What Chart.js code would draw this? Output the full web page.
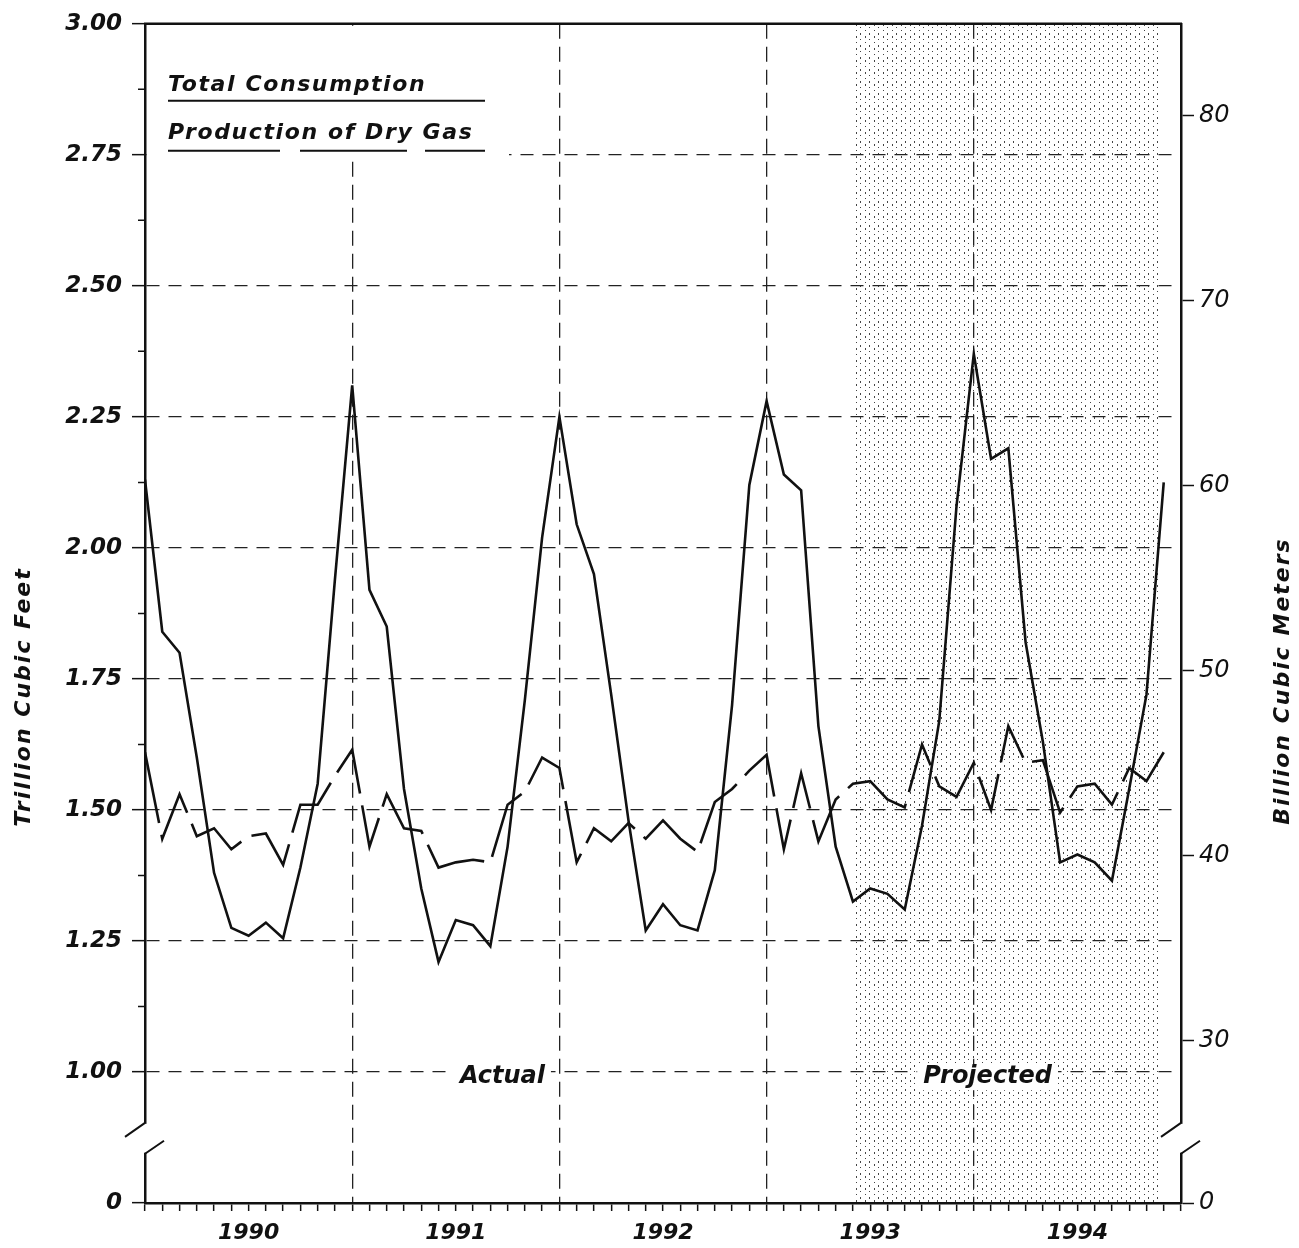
<!DOCTYPE html>
<html>
<head>
<meta charset="utf-8">
<script src="https://cdn.jsdelivr.net/npm/chart.js@4/dist/chart.umd.min.js"></script>
<style>
html,body{margin:0;padding:0;background:#ffffff;}
#wrap{width:1299px;height:1248px;position:relative;}
canvas{display:block;}
</style>
</head>
<body>
<div id="wrap"><canvas id="c" width="1299" height="1248"></canvas></div>
<script>
// ---- Data (monthly, Jan 1990 .. Dec 1994) ----
const years = ['1990', '1991', '1992', '1993', '1994'];
const consumption = [
  2.13, 1.84, 1.80, 1.60, 1.38, 1.275, 1.26, 1.285, 1.255, 1.39, 1.55, 1.94,
  2.31, 1.92, 1.85, 1.54, 1.35, 1.21, 1.29, 1.28, 1.24, 1.43, 1.71, 2.02,
  2.25, 2.045, 1.95, 1.72, 1.48, 1.27, 1.32, 1.28, 1.27, 1.385, 1.70, 2.12,
  2.28, 2.14, 2.11, 1.66, 1.43, 1.325, 1.35, 1.34, 1.31, 1.47, 1.67, 2.08,
  2.37, 2.17, 2.19, 1.82, 1.63, 1.40, 1.415, 1.40, 1.365, 1.54, 1.72, 2.125
];
const production = [
  1.61, 1.445, 1.53, 1.45, 1.465, 1.425, 1.45, 1.455, 1.395, 1.51, 1.51, 1.565,
  1.615, 1.43, 1.53, 1.465, 1.46, 1.39, 1.40, 1.405, 1.40, 1.51, 1.535, 1.60,
  1.58, 1.40, 1.465, 1.44, 1.475, 1.445, 1.48, 1.445, 1.42, 1.515, 1.54, 1.575,
  1.605, 1.425, 1.57, 1.44, 1.52, 1.55, 1.555, 1.52, 1.505, 1.625, 1.545, 1.525,
  1.59, 1.50, 1.66, 1.59, 1.595, 1.495, 1.545, 1.55, 1.51, 1.58, 1.555, 1.61
];
const leftTickValues = [0.75, 1.00, 1.25, 1.50, 1.75, 2.00, 2.25, 2.50, 2.75, 3.00];
const leftTickLabels = ['0', '1.00', '1.25', '1.50', '1.75', '2.00', '2.25', '2.50', '2.75', '3.00'];
const rightTickValues = [30, 40, 50, 60, 70, 80];
const TCF_TO_BCM = 28.3168;
const projectedStart = 41;      // month index where shading begins
const projectedEnd = 58.67;     // month index where shading ends
const seriesNames = ['Total Consumption', 'Production of Dry Gas'];
const periodLabels = ['Actual', 'Projected'];

const FONT = 'DejaVu Sans';
const INK = '#111111';

function makePattern() {
  const c = document.createElement('canvas');
  c.width = 9; c.height = 12;
  const g = c.getContext('2d');
  g.fillStyle = '#444';
  g.fillRect(1, 0, 1, 2);
  g.fillRect(1, 6, 1, 1);
  g.fillRect(5, 3, 1, 1);
  g.fillRect(5, 9, 1, 2);
  return c;
}

const decor = {
  id: 'decor',
  beforeDraw(chart) {
    const {ctx, chartArea: a, scales: {x}} = chart;
    ctx.save();
    ctx.fillStyle = '#fff';
    ctx.fillRect(0, 0, chart.width, chart.height);
    const x0 = x.getPixelForValue(projectedStart);
    const x1 = x.getPixelForValue(projectedEnd);
    ctx.fillStyle = ctx.createPattern(makePattern(), 'repeat');
    ctx.fillRect(x0, a.top, x1 - x0, a.bottom - a.top);
    ctx.restore();
  },
  beforeDatasetsDraw(chart) {
    const {ctx, chartArea: a, scales: {x, y}} = chart;
    ctx.save();
    // legend area (covers grid)
    ctx.fillStyle = '#fff';
    ctx.fillRect(a.left + 2, a.top + 2, 362, 134);
    ctx.fillStyle = INK;
    ctx.font = `italic bold 22px "${FONT}"`;
    ctx.letterSpacing = '1.6px';
    ctx.textAlign = 'left';
    ctx.textBaseline = 'alphabetic';
    const lx = a.left + 23;
    ctx.fillText(seriesNames[0], lx, a.top + 67);
    ctx.fillText(seriesNames[1], lx, a.top + 115);
    ctx.strokeStyle = INK;
    ctx.lineWidth = 2;
    ctx.beginPath();
    ctx.moveTo(lx, a.top + 77); ctx.lineTo(lx + 317, a.top + 77);
    ctx.stroke();
    ctx.beginPath();
    ctx.moveTo(lx, a.top + 127); ctx.lineTo(lx + 112, a.top + 127);
    ctx.moveTo(lx + 132, a.top + 127); ctx.lineTo(lx + 239, a.top + 127);
    ctx.moveTo(lx + 257, a.top + 127); ctx.lineTo(lx + 317, a.top + 127);
    ctx.stroke();

    // period labels
    ctx.font = `italic bold 24px "${FONT}"`;
    ctx.letterSpacing = '0px';
    ctx.textAlign = 'center';
    ctx.textBaseline = 'middle';
    const ly = y.getPixelForValue(0.99);
    [[periodLabels[0], 20.7], [periodLabels[1], 48.8]].forEach(([t, m]) => {
      const px = x.getPixelForValue(m);
      const w = ctx.measureText(t).width;
      ctx.fillStyle = '#fff';
      ctx.fillRect(px - w / 2 - 6, ly - 13, w + 12, 26);
      ctx.fillStyle = INK;
      ctx.fillText(t, px, ly);
    });
    ctx.restore();
  },
  afterDraw(chart) {
    const {ctx, chartArea: a, scales: {y}} = chart;
    ctx.save();
    ctx.strokeStyle = INK;
    // top border
    ctx.lineWidth = 2.5;
    ctx.beginPath();
    ctx.moveTo(a.left - 1, a.top); ctx.lineTo(a.right + 1, a.top);
    ctx.stroke();
    // minor ticks on left axis
    ctx.lineWidth = 1.5;
    ctx.beginPath();
    for (let v = 1.125; v < 3; v += 0.25) {
      const py = y.getPixelForValue(v);
      ctx.moveTo(a.left - 7, py); ctx.lineTo(a.left, py);
    }
    ctx.stroke();
    // axis breaks
    const bTop = y.getPixelForValue(0.903);
    const bBot = y.getPixelForValue(0.844);
    [a.left, a.right].forEach(ax => {
      ctx.fillStyle = '#fff';
      ctx.fillRect(ax - 3, bTop + 1, 6, bBot - bTop - 2);
      ctx.lineWidth = 2;
      ctx.beginPath();
      ctx.moveTo(ax, bTop); ctx.lineTo(ax - 20, bTop + 14);
      ctx.moveTo(ax, bBot); ctx.lineTo(ax + 19, bBot - 13);
      ctx.stroke();
    });
    // axis titles
    ctx.fillStyle = INK;
    ctx.font = `italic bold 22px "${FONT}"`;
    ctx.letterSpacing = '2px';
    ctx.textAlign = 'center';
    ctx.textBaseline = 'middle';
    ctx.save();
    ctx.translate(24, 697);
    ctx.rotate(-Math.PI / 2);
    ctx.fillText('Trillion Cubic Feet', 0, 0);
    ctx.restore();
    ctx.save();
    ctx.translate(1283, 681);
    ctx.rotate(-Math.PI / 2);
    ctx.fillText('Billion Cubic Meters', 0, 0);
    ctx.restore();
    ctx.restore();
  }
};

const ctx = document.getElementById('c').getContext('2d');
new Chart(ctx, {
  type: 'line',
  data: {
    datasets: [
      {
        label: seriesNames[0],
        data: consumption.map((v, i) => ({x: i, y: v})),
        borderColor: INK, borderWidth: 2.6, pointRadius: 0, tension: 0, fill: false,
        yAxisID: 'y'
      },
      {
        label: seriesNames[1],
        data: production.map((v, i) => ({x: i, y: v})),
        borderColor: INK, borderWidth: 2.6, pointRadius: 0, tension: 0, fill: false,
        borderDash: [72, 12],
        yAxisID: 'y'
      }
    ]
  },
  options: {
    responsive: false,
    animation: false,
    devicePixelRatio: 1,
    layout: {padding: {top: 18, left: 0, right: 0, bottom: 0}},
    plugins: {legend: {display: false}, tooltip: {enabled: false}},
    scales: {
      x: {
        type: 'linear', min: 0, max: 60, position: 'bottom',
        afterBuildTicks: s => { s.ticks = Array.from({length: 61}, (_, i) => ({value: i})); },
        afterFit: s => { s.height = 45; },
        grid: {
          color: c => (c.tick && c.tick.value % 12 === 0 && c.tick.value > 0 && c.tick.value < 60) ? '#222' : 'rgba(0,0,0,0)',
          lineWidth: 1.3, drawTicks: true, tickLength: 8, tickColor: INK, tickWidth: 1.5, tickBorderDash: []
        },
        border: {display: true, color: INK, width: 2.5, dash: [15, 8]},
        ticks: {
          autoSkip: false, maxRotation: 0, minRotation: 0, padding: 9, color: INK,
          font: {family: FONT, size: 22, style: 'italic', weight: 'bold'},
          callback: v => (v % 12 === 6) ? years[(v - 6) / 12] : ''
        }
      },
      y: {
        type: 'linear', position: 'left', min: 0.75, max: 3.0,
        afterBuildTicks: s => { s.ticks = leftTickValues.map(v => ({value: v})); },
        afterFit: s => { s.width = 145; },
        grid: {
          color: c => (c.tick && c.tick.value > 0.9 && c.tick.value < 2.9) ? '#222' : 'rgba(0,0,0,0)',
          lineWidth: 1.3, drawTicks: true, tickLength: 13, tickColor: INK, tickWidth: 1.5, tickBorderDash: []
        },
        border: {display: true, color: INK, width: 2.5, dash: [13, 9]},
        ticks: {
          padding: 10, color: INK,
          font: {family: FONT, size: 23, style: 'italic', weight: 'bold'},
          callback: (v, i) => leftTickLabels[i]
        }
      },
      y2: {
        type: 'linear', position: 'right', min: 0.75 * TCF_TO_BCM, max: 3.0 * TCF_TO_BCM,
        afterBuildTicks: s => { s.ticks = [0.75 * TCF_TO_BCM].concat(rightTickValues).map(v => ({value: v})); },
        afterFit: s => { s.width = 118; },
        grid: {
          drawOnChartArea: false, drawTicks: true, tickLength: 13, tickColor: INK, tickWidth: 1.5, tickBorderDash: []
        },
        border: {display: true, color: INK, width: 2.5},
        ticks: {
          padding: 5, color: INK,
          font: {family: FONT, size: 24, style: 'italic', weight: 'normal'},
          callback: (v, i) => i === 0 ? '0' : String(rightTickValues[i - 1])
        }
      }
    }
  },
  plugins: [decor]
});
</script>
</body>
</html>
